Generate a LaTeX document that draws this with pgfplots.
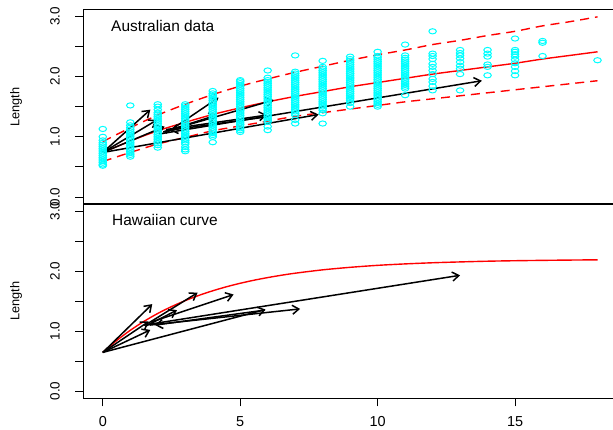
\documentclass[border=0pt]{standalone}
\usepackage{fontspec}
\setmainfont{Liberation Sans}
\usepackage{pgfplots}
\pgfplotsset{compat=1.18}
\usepackage{pgfplotstable}
\usetikzlibrary{arrows.meta}
\definecolor{rcyan}{RGB}{0,255,255}
\definecolor{rred}{RGB}{255,0,0}

\pgfplotstableread{
age len
0 0.52
0 0.54
0 0.57
0 0.60
0 0.63
0 0.66
0 0.69
0 0.72
0 0.75
0 0.78
0 0.81
0 0.84
0 0.87
0 0.90
0 0.94
0 1.00
0 1.13
1 0.67
1 0.70
1 0.73
1 0.76
1 0.79
1 0.82
1 0.85
1 0.88
1 0.91
1 0.94
1 0.97
1 1.00
1 1.03
1 1.06
1 1.09
1 1.12
1 1.15
1 1.19
1 1.24
1 1.52
2 0.82
2 0.86
2 0.89
2 0.92
2 0.95
2 0.98
2 1.01
2 1.04
2 1.07
2 1.10
2 1.13
2 1.16
2 1.19
2 1.22
2 1.25
2 1.28
2 1.31
2 1.34
2 1.37
2 1.40
2 1.45
2 1.50
2 1.54
3 0.76
3 0.79
3 0.83
3 0.88
3 0.91
3 0.94
3 0.97
3 1.00
3 1.03
3 1.06
3 1.09
3 1.12
3 1.15
3 1.18
3 1.21
3 1.24
3 1.27
3 1.30
3 1.33
3 1.36
3 1.39
3 1.42
3 1.45
3 1.48
3 1.51
3 1.54
4 0.91
4 1.00
4 1.03
4 1.06
4 1.09
4 1.12
4 1.15
4 1.18
4 1.21
4 1.24
4 1.27
4 1.30
4 1.33
4 1.36
4 1.39
4 1.42
4 1.45
4 1.48
4 1.51
4 1.54
4 1.57
4 1.60
4 1.63
4 1.66
4 1.69
4 1.72
4 1.76
5 1.08
5 1.11
5 1.14
5 1.17
5 1.20
5 1.23
5 1.26
5 1.29
5 1.32
5 1.35
5 1.38
5 1.41
5 1.44
5 1.47
5 1.50
5 1.53
5 1.56
5 1.59
5 1.62
5 1.65
5 1.68
5 1.71
5 1.74
5 1.77
5 1.80
5 1.83
5 1.86
5 1.89
5 1.92
5 1.94
6 1.11
6 1.17
6 1.25
6 1.28
6 1.31
6 1.34
6 1.37
6 1.40
6 1.43
6 1.46
6 1.49
6 1.52
6 1.55
6 1.58
6 1.61
6 1.64
6 1.67
6 1.70
6 1.73
6 1.76
6 1.79
6 1.82
6 1.85
6 1.88
6 1.91
6 1.94
6 1.98
6 2.10
7 1.22
7 1.28
7 1.36
7 1.39
7 1.42
7 1.45
7 1.48
7 1.51
7 1.54
7 1.57
7 1.60
7 1.63
7 1.66
7 1.69
7 1.72
7 1.75
7 1.78
7 1.81
7 1.84
7 1.87
7 1.90
7 1.93
7 1.96
7 1.99
7 2.02
7 2.05
7 2.08
7 2.35
8 1.22
8 1.39
8 1.44
8 1.47
8 1.50
8 1.53
8 1.56
8 1.59
8 1.62
8 1.65
8 1.68
8 1.71
8 1.74
8 1.77
8 1.80
8 1.83
8 1.86
8 1.89
8 1.92
8 1.95
8 1.98
8 2.01
8 2.04
8 2.07
8 2.10
8 2.13
8 2.16
8 2.26
9 1.50
9 1.56
9 1.60
9 1.63
9 1.66
9 1.69
9 1.72
9 1.75
9 1.78
9 1.81
9 1.84
9 1.87
9 1.90
9 1.93
9 1.96
9 1.99
9 2.02
9 2.05
9 2.08
9 2.11
9 2.14
9 2.17
9 2.20
9 2.23
9 2.26
9 2.29
9 2.33
10 1.50
10 1.53
10 1.56
10 1.59
10 1.62
10 1.65
10 1.68
10 1.71
10 1.74
10 1.77
10 1.80
10 1.83
10 1.86
10 1.89
10 1.92
10 1.95
10 1.98
10 2.01
10 2.04
10 2.07
10 2.10
10 2.13
10 2.16
10 2.19
10 2.22
10 2.25
10 2.28
10 2.31
10 2.34
10 2.41
11 1.69
11 1.80
11 1.83
11 1.86
11 1.89
11 1.92
11 1.95
11 1.98
11 2.01
11 2.04
11 2.07
11 2.10
11 2.13
11 2.16
11 2.19
11 2.22
11 2.25
11 2.28
11 2.31
11 2.35
11 2.53
12 1.77
12 1.84
12 1.91
12 1.96
12 2.04
12 2.10
12 2.16
12 2.21
12 2.29
12 2.34
12 2.38
12 2.75
13 1.77
13 2.04
13 2.13
13 2.18
13 2.24
13 2.30
13 2.35
13 2.39
13 2.44
14 2.02
14 2.16
14 2.20
14 2.33
14 2.38
14 2.44
15 2.02
15 2.09
15 2.16
15 2.22
15 2.28
15 2.33
15 2.37
15 2.41
15 2.44
15 2.63
16 2.34
16 2.56
16 2.59
18 2.27
}\ausdata

\pgfplotstableread{
t mean upper lower
0 0.74 0.92 0.59
1 0.93 1.15 0.74
2 1.10 1.36 0.88
3 1.24 1.54 0.99
4 1.37 1.70 1.10
5 1.48 1.84 1.18
6 1.58 1.96 1.26
7 1.67 2.07 1.34
8 1.75 2.17 1.40
9 1.83 2.27 1.46
10 1.90 2.36 1.52
11 1.97 2.44 1.58
12 2.04 2.53 1.63
13 2.10 2.60 1.68
14 2.16 2.68 1.73
15 2.22 2.75 1.78
16 2.29 2.84 1.83
17 2.35 2.91 1.88
18 2.41 2.99 1.93
}\auscurve

\pgfplotstableread{
t len
0 0.645
0.5 0.841
1 1.013
1.5 1.163
2 1.294
2.5 1.408
3 1.508
3.5 1.596
4 1.672
4.5 1.739
5 1.797
5.5 1.848
6 1.892
6.5 1.931
7 1.965
8 2.021
9 2.063
10 2.096
11 2.120
12 2.139
13 2.153
14 2.165
15 2.173
16 2.179
17 2.184
18 2.188
}\hawcurve

\pgfplotsset{
  panel/.style={
    scale only axis, width=534.3bp,
    xmin=-0.72, xmax=18.72, ymin=-0.12, ymax=3.12,
    axis line style={line width=1bp, black},
    tick style={line width=0.9bp, black},
    tick align=outside, major tick length=8bp,
    ytick={0,0.5,1,1.5,2,2.5,3},
    yticklabels={0.0,,1.0,,2.0,,3.0},
    yticklabel style={rotate=90, anchor=south, inner sep=0pt, font=\fontsize{13.5}{14}\selectfont},
    yticklabel shift=15bp,
    ytick pos=left, xtick pos=bottom,
    /pgf/number format/assume math mode=true,
  },
  arr/.style={black, line width=1.5bp, mark=none, -{Straight Barb[length=6.5bp,width=9bp]}},
}

\begin{document}
\begin{tikzpicture}
\useasboundingbox (0,0) rectangle (613bp,-430bp);

\begin{axis}[panel, at={(83bp,-9bp)}, anchor=north west, height=195.3bp, xtick=\empty]
\addplot[only marks, mark=o, rcyan, mark size=2.6bp, mark options={xscale=1.45, line width=1bp}] table[x=age, y=len] {\ausdata};
\addplot[rred, line width=1.4bp, smooth] table[x=t, y=mean] {\auscurve};
\addplot[rred, line width=1.4bp, smooth, dash pattern=on 9bp off 6bp] table[x=t, y=upper] {\auscurve};
\addplot[rred, line width=1.4bp, smooth, dash pattern=on 9bp off 6bp] table[x=t, y=lower] {\auscurve};
\addplot[arr] coordinates {(0,0.74) (1.73,1.45)};
\addplot[arr] coordinates {(0,0.74) (1.97,1.28)};
\addplot[arr] coordinates {(0,0.74) (2.25,1.17)};
\addplot[arr] coordinates {(2.3,1.06) (4.21,1.65)};
\addplot[arr] coordinates {(2.2,1.08) (6.22,1.61)};
\addplot[arr] coordinates {(2.1,1.05) (13.79,1.93)};
\addplot[arr] coordinates {(0,0.74) (7.85,1.37)};
\addplot[arr] coordinates {(2.3,1.12) (5.97,1.36)};
\addplot[arr] coordinates {(5.95,1.33) (2.45,1.11)};
\addplot[arr] coordinates {(2.2,1.08) (4.15,1.36)};
\end{axis}

\begin{axis}[panel, at={(83bp,-203.9bp)}, anchor=north west, height=194.4bp,
  xtick={0,5,10,15}, xticklabels={0,5,10,15},
  xticklabel style={font=\fontsize{14.5}{15}\selectfont, inner sep=0pt, anchor=north},
  xticklabel shift=10bp]
\addplot[rred, line width=1.4bp, smooth] table[x=t, y=len] {\hawcurve};
\addplot[arr] coordinates {(0,0.645) (1.8,1.45)};
\addplot[arr] coordinates {(0,0.645) (1.67,1.16)};
\addplot[arr] coordinates {(0,0.645) (5.92,1.36)};
\addplot[arr] coordinates {(1.65,1.13) (3.45,1.64)};
\addplot[arr] coordinates {(1.75,1.15) (4.76,1.61)};
\addplot[arr] coordinates {(1.5,1.10) (13.0,1.93)};
\addplot[arr] coordinates {(1.7,1.10) (7.18,1.37)};
\addplot[arr] coordinates {(5.9,1.35) (1.9,1.10)};
\addplot[arr] coordinates {(1.55,1.08) (2.7,1.35)};
\addplot[arr] coordinates {(0,0.645) (1.73,1.02)};
\end{axis}

\node[anchor=west, inner sep=0pt, font=\fontsize{15.5}{16}\selectfont] at (111bp,-26bp) {Australian data};
\node[anchor=west, inner sep=0pt, font=\fontsize{15.5}{16}\selectfont] at (112bp,-220bp) {Hawaiian curve};
\node[rotate=90, inner sep=0pt, font=\fontsize{12.8}{13}\selectfont] at (16bp,-107bp) {Length};
\node[rotate=90, inner sep=0pt, font=\fontsize{12.8}{13}\selectfont] at (16bp,-301bp) {Length};
\end{tikzpicture}
\end{document}
